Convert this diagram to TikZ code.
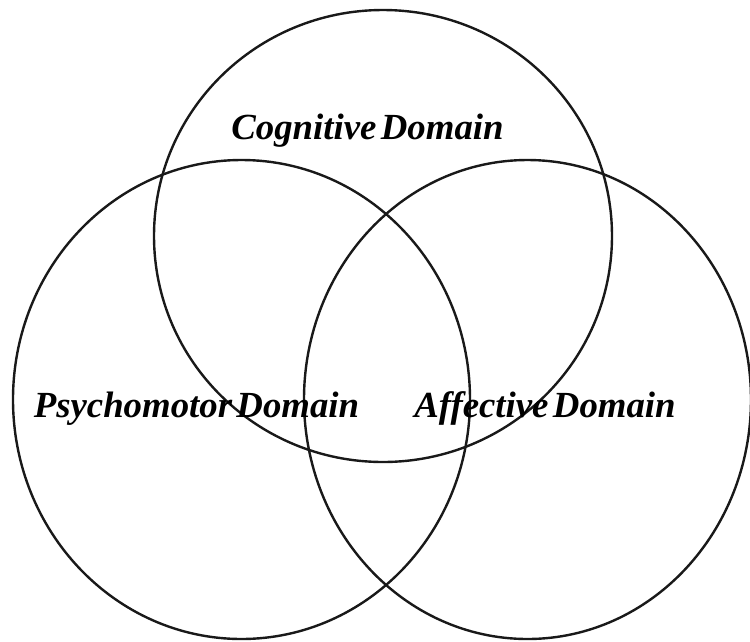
\documentclass[tikz,border=0pt]{standalone}
\usepackage{fontspec}
\setmainfont{Liberation Serif}
\tikzset{ring/.style={draw=black!90, line width=2.4pt},
  lbl/.style={font=\fontsize{36.8}{42}\selectfont\bfseries\itshape, inner sep=0pt}}
\newcommand{\tsp}{\hspace{0.12em}}
\begin{document}
\begin{tikzpicture}[x=1pt,y=-1pt]
\useasboundingbox (0,0) rectangle (750,641);
\draw[ring] (383,236) ellipse [x radius=229, y radius=226];
\draw[ring] (241.5,399.5) ellipse [x radius=228.5, y radius=239.5];
\draw[ring] (527.5,399.5) ellipse [x radius=223.5, y radius=239.5];
\node[lbl, anchor=base] (cog) at (367.5,139) {Cognitive\tsp Domain};
\node[lbl, anchor=base] (psy) at (196.5,417) {Psychomotor\tsp Domain};
\node[lbl, anchor=base] (aff) at (545,417) {Affective\tsp Domain};
\end{tikzpicture}
\end{document}
